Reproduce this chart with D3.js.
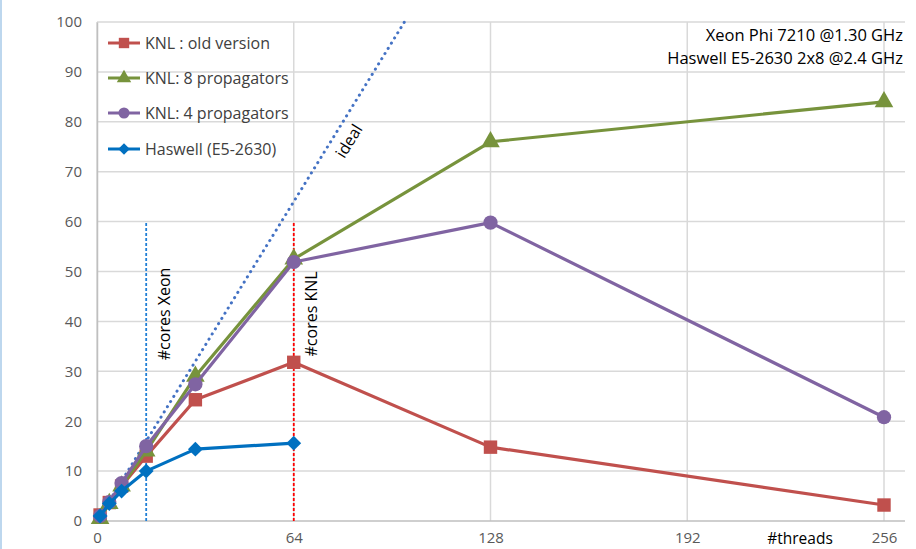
<!DOCTYPE html>
<html>
<head>
<meta charset="utf-8">
<script src="https://cdn.jsdelivr.net/npm/d3@7"></script>
<style>
  body { margin: 0; background: #fff; }
  text { font-family: "Open Sans", "Noto Sans", sans-serif; }
</style>
</head>
<body>
<div id="main"></div>
<script>
const width = 916;
const height = 549;
const margin = { top: 22, right: 11, bottom: 28, left: 97 };

// data
const threads = [1, 4, 8, 16, 32, 64, 128, 256];
const knlOld = [1.2, 3.7, 7, 13, 24.3, 31.8, 14.8, 3.2];
const knl8 = [0.5, 3.5, 7, 14, 29, 52.5, 76, 84];
const knl4 = [1, 3.8, 7.6, 15, 27.4, 51.9, 59.8, 20.8];
const haswell = [1, 3.5, 6, 10, 14.4, 15.6];
const xTicks = [0, 64, 128, 192, 256];
const yTicks = [0, 10, 20, 30, 40, 50, 60, 70, 80, 90, 100];
const idealX = [0, 100];
const coresLines = [
  { x: 16, top: 60, color: "#1F7FD6", label: "#cores Xeon" },
  { x: 64, top: 60, color: "#FF0000", label: "#cores KNL" },
];

const series = [
  { name: "KNL : old version", values: knlOld, color: "#C0504D", marker: d3.symbolSquare, size: 180, rot: 0 },
  { name: "KNL: 8 propagators", values: knl8, color: "#77933C", marker: d3.symbolTriangle, size: 150, rot: 0 },
  { name: "KNL: 4 propagators", values: knl4, color: "#8064A2", marker: d3.symbolCircle, size: 160, rot: 0 },
  { name: "Haswell (E5-2630)", values: haswell, color: "#0070C0", marker: d3.symbolSquare, size: 110, rot: 45 },
];

const svg = d3.select("#main").append("svg").attr("width", width).attr("height", height);

// slide border on the left
svg.append("line").attr("x1", 1).attr("x2", 1).attr("y1", 0).attr("y2", height)
  .attr("stroke", "#BDD7EE").attr("stroke-width", 2);

const xScale = d3.scaleLinear().domain([0, 256]).range([margin.left, 884]);
const yScale = d3.scaleLinear().domain([0, 100]).range([height - margin.bottom, margin.top]);
const right = width - margin.right;

// gridlines
svg.append("g").selectAll("line").data(yTicks.filter((d) => d > 0)).enter().append("line")
  .attr("x1", margin.left).attr("x2", right)
  .attr("y1", (d) => yScale(d)).attr("y2", (d) => yScale(d))
  .attr("stroke", "#D9D9D9").attr("stroke-width", 1.5);
svg.append("g").selectAll("line").data(xTicks).enter().append("line")
  .attr("x1", (d) => xScale(d)).attr("x2", (d) => xScale(d))
  .attr("y1", yScale(0)).attr("y2", yScale(100))
  .attr("stroke", "#D9D9D9").attr("stroke-width", 1.5);

// axes
const xAxis = d3.axisBottom(xScale).tickValues(xTicks).tickSize(0).tickPadding(11);
const yAxis = d3.axisLeft(yScale).tickValues(yTicks).tickSize(0).tickPadding(15);
const gx = svg.append("g").attr("transform", `translate(0, ${yScale(0)})`).call(xAxis);
const gy = svg.append("g").attr("transform", `translate(${margin.left}, 0)`).call(yAxis);
[gx, gy].forEach((g) => {
  g.select(".domain").attr("stroke", "#BFBFBF").attr("stroke-width", 1.5);
  g.selectAll("text").style("font-size", "15px").attr("fill", "#595959")
    .style("font-family", '"Open Sans", sans-serif');
});
gx.select(".domain").attr("d", `M${margin.left},0H${right}`);

svg.append("text").attr("x", 800).attr("y", 544).attr("text-anchor", "middle")
  .style("font-size", "15.5px").attr("fill", "#000").text("#threads");

// ideal line y = x
svg.append("line")
  .attr("x1", xScale(idealX[0])).attr("y1", yScale(idealX[0]))
  .attr("x2", xScale(idealX[1])).attr("y2", yScale(idealX[1]))
  .attr("stroke", "#4472C4").attr("stroke-width", 3)
  .attr("stroke-dasharray", "0.1 6").attr("stroke-linecap", "round");
svg.append("text").attr("transform", `translate(349, 141) rotate(-58)`)
  .attr("text-anchor", "middle").attr("dy", "0.35em").style("font-size", "16px").text("ideal");

// cores markers
coresLines.forEach((c) => {
  svg.append("line")
    .attr("x1", xScale(c.x)).attr("x2", xScale(c.x))
    .attr("y1", yScale(0)).attr("y2", yScale(c.top))
    .attr("stroke", c.color).attr("stroke-width", 1.8).attr("stroke-dasharray", "3 2");
  svg.append("text")
    .attr("transform", `translate(${xScale(c.x) + 18}, ${yScale(41.5)}) rotate(-90)`)
    .attr("text-anchor", "middle").attr("dy", "0.35em").style("font-size", "16px").text(c.label);
});

// series
const line = d3.line().x((d) => xScale(d[0])).y((d) => yScale(d[1]));
series.forEach((s) => {
  const pts = s.values.map((v, i) => [threads[i], v]);
  svg.append("path").datum(pts).attr("d", line)
    .attr("fill", "none").attr("stroke", s.color).attr("stroke-width", 3.2)
    .attr("stroke-linejoin", "round");
  svg.append("g").selectAll("path").data(pts).enter().append("path")
    .attr("d", d3.symbol().type(s.marker).size(s.size))
    .attr("transform", (d) => `translate(${xScale(d[0])}, ${yScale(d[1])}) rotate(${s.rot})`)
    .attr("fill", s.color);
});

// legend
const legend = svg.append("g").attr("transform", "translate(108, 43)");
series.forEach((s, i) => {
  const g = legend.append("g").attr("transform", `translate(0, ${[0, 35, 70, 106][i]})`);
  g.append("line").attr("x1", 0).attr("x2", 32).attr("stroke", s.color).attr("stroke-width", 3);
  g.append("path").attr("d", d3.symbol().type(s.marker).size(s.size * 0.6))
    .attr("transform", `translate(16, 0) rotate(${s.rot})`).attr("fill", s.color);
  g.append("text").attr("x", 37).attr("dy", "0.35em").style("font-size", "16px")
    .attr("fill", "#404040").text(s.name);
});

// processor info
svg.append("text").attr("x", 903).attr("y", 41).attr("text-anchor", "end")
  .style("font-size", "16.5px").text("Xeon Phi 7210 @1.30 GHz");
svg.append("text").attr("x", 903).attr("y", 64).attr("text-anchor", "end")
  .style("font-size", "16.5px").text("Haswell E5-2630 2x8 @2.4 GHz");
</script>
</body>
</html>
